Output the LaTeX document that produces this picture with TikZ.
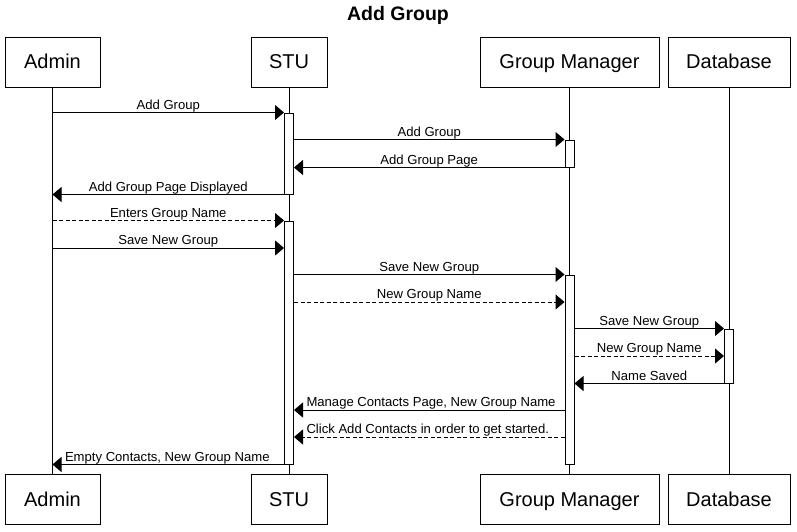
\documentclass[tikz,border=0pt]{standalone}
\usepackage{fontspec}
\setmainfont{Liberation Sans}
\usetikzlibrary{arrows.meta}
\begin{document}
\begin{tikzpicture}[x=1pt,y=-1pt,
  actor/.style={draw, line width=1pt, fill=white, minimum height=50pt, inner sep=0pt,
    text height=15pt, text depth=2pt, font=\fontsize{20}{24}\selectfont},
  life/.style={line width=1pt},
  act/.style={draw, line width=1pt, fill=white, minimum width=9pt, inner sep=0pt},
  msg/.style={line width=1pt, -{Triangle[length=9pt,width=15pt]}},
  reply/.style={msg, dash pattern=on 4pt off 2.5pt},
  lbl/.style={font=\fontsize{13.1}{15}\selectfont, inner sep=0pt, anchor=base, yshift=3.5pt},
  lblL/.style={lbl, pos=1, anchor=base west, xshift=12pt}
]
\fill[white] (0,0) rectangle (797,531);
\useasboundingbox (0,0) rectangle (797,531);

% title
\node[font=\fontsize{19.5}{22}\selectfont\bfseries] (title) at (398,15) {Add Group};

% participants, top and bottom
\node[actor, minimum width=95pt]  (admT) at (52.5,62)  {Admin};
\node[actor, minimum width=76pt]  (stuT) at (289,62)   {STU};
\node[actor, minimum width=179pt] (gmT)  at (569.5,62) {Group Manager};
\node[actor, minimum width=122pt] (dbT)  at (729,62)   {Database};
\node[actor, minimum width=95pt]  (admB) at (52.5,499.5)  {Admin};
\node[actor, minimum width=76pt]  (stuB) at (289,499.5)   {STU};
\node[actor, minimum width=179pt] (gmB)  at (569.5,499.5) {Group Manager};
\node[actor, minimum width=122pt] (dbB)  at (729,499.5)   {Database};

% lifelines
\draw[life] (admT) -- (admB);
\draw[life] (stuT) -- (stuB);
\draw[life] (gmT) -- (gmB);
\draw[life] (dbT) -- (dbB);

% activation bars
\node[act, minimum height=81pt]  (a1) at (stuT |- 0,153.5) {};
\node[act, minimum height=243pt] (a2) at (stuT |- 0,342.5) {};
\node[act, minimum height=27pt]  (g1) at (gmT |- 0,153.5)  {};
\node[act, minimum height=189pt] (g2) at (gmT |- 0,369.5)  {};
\node[act, minimum height=54pt]  (d1) at (dbT |- 0,356)    {};

% message rows without a bar edge
\coordinate (r6)  at (0,248);
\coordinate (r8)  at (0,302);
\coordinate (r12) at (0,410);
\coordinate (r13) at (0,437);

% messages
\draw[msg] (admT |- a1.north) -- node[lbl]{Add Group} (a1.north west);
\draw[msg] (a1.east |- g1.north) -- node[lbl]{Add Group} (g1.north west);
\draw[msg] (g1.south west) -- node[lbl]{Add Group Page} (a1.east |- g1.south);
\draw[msg] (a1.south west) -- node[lbl]{Add Group Page Displayed} (admT |- a1.south);
\draw[reply] (admT |- a2.north) -- node[lbl]{Enters Group Name} (a2.north west);
\draw[msg] (admT |- r6) -- node[lbl]{Save New Group} (a2.west |- r6);
\draw[msg] (a2.east |- g2.north) -- node[lbl]{Save New Group} (g2.north west);
\draw[reply] (a2.east |- r8) -- node[lbl]{New Group Name} (g2.west |- r8);
\draw[msg] (g2.east |- d1.north) -- node[lbl]{Save New Group} (d1.north west);
\draw[reply] (g2.east |- d1.west) -- node[lbl]{New Group Name} (d1.west);
\draw[msg] (d1.south west) -- node[lbl]{Name Saved} (g2.east |- d1.south);
\draw[msg] (g2.west |- r12) -- node[lblL]{Manage Contacts Page, New Group Name} (a2.east |- r12);
\draw[reply] (g2.west |- r13) -- node[lblL]{Click Add Contacts in order to get started.} (a2.east |- r13);
\draw[msg] (a2.south west) -- node[lblL]{Empty Contacts, New Group Name} (admT |- a2.south);
\end{tikzpicture}
\end{document}
